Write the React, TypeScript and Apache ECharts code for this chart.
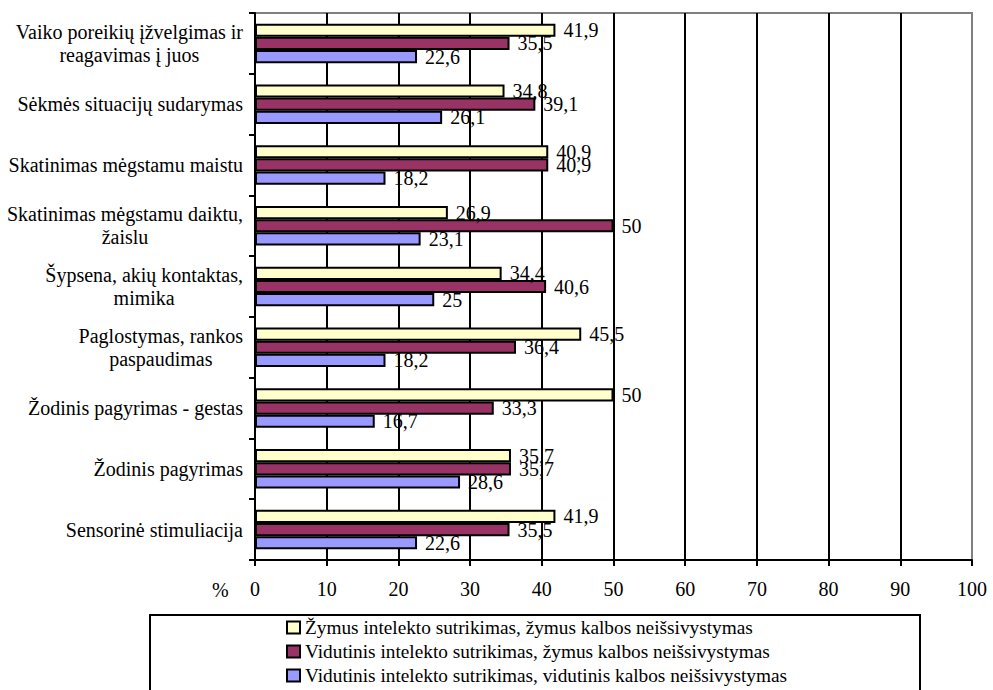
import React, { useEffect, useRef } from "react";
import * as echarts from "echarts";

const categories = [
  "Vaiko poreikių įžvelgimas ir\nreagavimas į juos",
  "Sėkmės situacijų sudarymas",
  "Skatinimas mėgstamu maistu",
  "Skatinimas mėgstamu daiktu,\nžaislu",
  "Šypsena, akių kontaktas,\nmimika",
  "Paglostymas, rankos\npaspaudimas",
  "Žodinis pagyrimas - gestas",
  "Žodinis pagyrimas",
  "Sensorinė stimuliacija",
];

const seriesNames = [
  "Žymus intelekto sutrikimas, žymus kalbos neišsivystymas",
  "Vidutinis intelekto sutrikimas, žymus kalbos neišsivystymas",
  "Vidutinis intelekto sutrikimas, vidutinis kalbos neišsivystymas",
];

const severeSevere = [41.9, 34.8, 40.9, 26.9, 34.4, 45.5, 50, 35.7, 41.9];
const moderateSevere = [35.5, 39.1, 40.9, 50, 40.6, 36.4, 33.3, 35.7, 35.5];
const moderateModerate = [22.6, 26.1, 18.2, 23.1, 25, 18.2, 16.7, 28.6, 22.6];

const colors = ["#FFFFCC", "#993366", "#9999FF"];

const FONT = "Liberation Serif";

export default function App() {
  const ref = useRef<HTMLDivElement>(null);

  useEffect(() => {
    if (!ref.current) return;
    const chart = echarts.init(ref.current, undefined, { renderer: "svg" });
    const values = [severeSevere, moderateSevere, moderateModerate];
    const option: any = {
      animation: false,
      backgroundColor: "#ffffff",
      grid: {
        left: 255,
        right: 21,
        top: 13,
        bottom: 130,
        containLabel: false,
        outerBoundsMode: "none",
        show: true,
        borderColor: "#808080",
        borderWidth: 2,
        backgroundColor: "transparent",
      },
      xAxis: {
        type: "value",
        min: 0,
        max: 100,
        interval: 10,
        axisLine: { show: true, lineStyle: { color: "#000", width: 2 } },
        axisTick: { show: true, length: 6, inside: false, lineStyle: { color: "#000", width: 2 } },
        axisLabel: {
          color: "#000",
          fontFamily: FONT,
          fontSize: 20,
          margin: 19,
        },
        splitLine: {
          show: true,
          showMinLine: false,
          showMaxLine: false,
          lineStyle: { color: "#000", width: 2 },
        },
      },
      yAxis: {
        type: "category",
        inverse: true,
        data: categories,
        axisLine: { show: true, lineStyle: { color: "#000", width: 2 } },
        axisTick: { show: true, length: 6, inside: false, lineStyle: { color: "#000", width: 2 } },
        axisLabel: {
          margin: 12,
          color: "#000",
          fontFamily: FONT,
          fontSize: 20,
          lineHeight: 23.5,
          formatter: (v: string) =>
            v
              .split("\n")
              .map((l) => `{c|${l}}`)
              .join("\n"),
          rich: {
            c: {
              align: "center",
              color: "#000",
              fontFamily: FONT,
              fontSize: 20,
              lineHeight: 23.5,
            },
          },
        },
        splitLine: { show: false },
      },
      legend: {
        orient: "vertical",
        left: 286,
        top: 618,
        padding: 0,
        itemWidth: 13,
        itemHeight: 12,
        itemGap: 5,
        icon: "rect",
        data: seriesNames,
        itemStyle: { borderColor: "#000", borderWidth: 2 },
        textStyle: { color: "#000", fontFamily: FONT, fontSize: 19.3 },
      },
      graphic: [
        {
          type: "rect",
          shape: { x: 150, y: 615, width: 770, height: 90 },
          style: { fill: "none", stroke: "#000", lineWidth: 2 },
          z: -1,
        },
        {
          type: "text",
          x: 212,
          y: 590,
          style: {
            text: "%",
            fill: "#000",
            fontFamily: FONT,
            fontSize: 20,
            verticalAlign: "middle",
            align: "left",
          },
        },
      ],
      series: seriesNames.map((name, i) => ({
        name,
        type: "bar",
        data: values[i],
        barGap: "0%",
        barCategoryGap: "35%",
        itemStyle: { color: colors[i], borderColor: "#000", borderWidth: 2 },
        label: {
          show: true,
          position: "right",
          distance: 8,
          color: "#000",
          fontFamily: FONT,
          fontSize: 20,
          formatter: (p: any) => String(p.value).replace(".", ","),
        },
      })),
    };
    chart.setOption(option);
    return () => chart.dispose();
  }, []);

  return (
    <div
      ref={ref}
      style={{ position: "fixed", left: 0, top: 0, width: 993, height: 690 }}
    />
  );
}
